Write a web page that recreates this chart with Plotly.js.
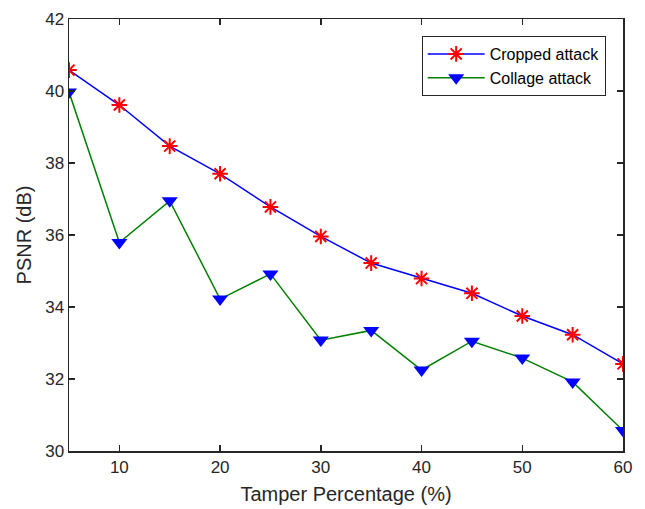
<!DOCTYPE html>
<html>
<head>
<meta charset="utf-8">
<script src="https://cdn.plot.ly/plotly-3.0.1.min.js"></script>
<style>html,body{margin:0;padding:0;background:#fff;}#chart{width:645px;height:509px;}</style>
</head>
<body>
<div id="chart"></div>
<script>
var tamper = [5, 10, 15, 20, 25, 30, 35, 40, 45, 50, 55, 60];
var cropped = [40.58, 39.61, 38.47, 37.70, 36.78, 35.96, 35.22, 34.79, 34.38, 33.75, 33.23, 32.42];
var collage = [39.97, 35.79, 36.95, 34.22, 34.92, 33.08, 33.35, 32.25, 33.05, 32.58, 31.92, 30.57];
var xTicks = [10, 20, 30, 40, 50, 60];
var yTicks = [30, 32, 34, 36, 38, 40, 42];

var traces = [
  {x: tamper, y: cropped, name: 'Cropped attack', type: 'scatter', mode: 'lines+markers',
   line: {color: '#0000ff', width: 1.5},
   marker: {symbol: 'asterisk-open', size: 13, color: '#ff0000', line: {color: '#ff0000', width: 2}}},
  {x: tamper, y: collage, name: 'Collage attack', type: 'scatter', mode: 'lines+markers',
   line: {color: '#008000', width: 1.5},
   marker: {symbol: 'triangle-down', size: 14, color: '#0000ff', line: {width: 0}}}
];

var FONT = 'Liberation Sans, Arial, Helvetica, sans-serif';
var axCommon = {
  showgrid: false, zeroline: false, showline: true, linecolor: '#262626', linewidth: 1.5,
  mirror: 'ticks', ticks: 'inside', ticklen: 6, tickwidth: 1.5, tickcolor: '#262626',
  tickfont: {family: FONT, size: 17, color: '#262626'}
};

var layout = {
  width: 645, height: 509,
  margin: {l: 69, r: 22, t: 19, b: 58},
  paper_bgcolor: '#ffffff', plot_bgcolor: '#ffffff',
  showlegend: true,
  legend: {x: 0.6366, y: 0.9606, xanchor: 'left', yanchor: 'top',
    bgcolor: '#ffffff', bordercolor: '#262626', borderwidth: 1,
    font: {family: FONT, size: 16, color: '#000'},
    itemwidth: 57, tracegroupgap: 0},
  xaxis: Object.assign({}, axCommon, {range: [5, 60], tickmode: 'array', tickvals: xTicks, ticktext: xTicks.map(String),
    title: {text: 'Tamper Percentage (%)', font: {family: FONT, size: 20, color: '#262626'}, standoff: 11}}),
  yaxis: Object.assign({}, axCommon, {range: [30, 42], tickmode: 'array', tickvals: yTicks, ticktext: yTicks.map(String),
    title: {text: 'PSNR (dB)', font: {family: FONT, size: 20, color: '#262626'}, standoff: 8}})
};

Plotly.newPlot('chart', traces, layout, {displayModeBar: false, staticPlot: true});
</script>
</body>
</html>
